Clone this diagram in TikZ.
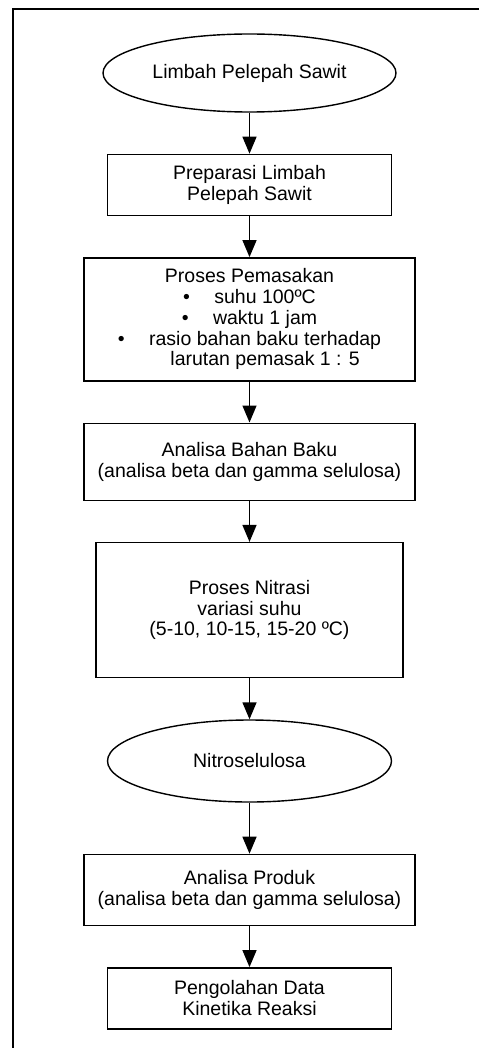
\documentclass[tikz,border=0pt]{standalone}
\usepackage{fontspec}
\setmainfont{Liberation Sans}
\usetikzlibrary{arrows.meta,chains,positioning,shapes.geometric}

\begin{document}
\begin{tikzpicture}[
  x=1pt,y=1pt,
  node distance=20.5pt,
  start chain=flow going below,
  font=\fontsize{9.75}{10.4}\selectfont,
  block/.style={draw,line width=0.7pt,inner sep=1pt,align=center,minimum width=142pt,minimum height=30.5pt},
  wide/.style={block,minimum width=165.5pt},
  terminal/.style={draw,ellipse,line width=0.7pt,inner sep=0pt,align=center,minimum width=142pt,minimum height=41pt},
  every on chain/.style={join},
  every join/.style={-{Triangle[length=8.5pt,width=7pt]},line width=0.7pt}
]
  \useasboundingbox (0,0) rectangle (239.5,-524);
  \draw[line width=0.7pt] (239.5,-4.5) -- (6.5,-4.5) -- (6.5,-524);

  \node[terminal,on chain=flow,minimum width=146.5pt,minimum height=39pt] (limbah) at (124.75,-36.5) {Limbah Pelepah Sawit};
  \node[block,on chain=flow] (preparasi) {Preparasi Limbah\\Pelepah Sawit};
  \node[wide,on chain=flow,minimum height=61.5pt] (pemasakan) {Proses Pemasakan\\
    \textbullet\hspace{1.25em}suhu 100ºC\\
    \textbullet\hspace{1.25em}waktu 1 jam\\
    \textbullet\hspace{1.25em}rasio bahan baku terhadap\\
    \hspace*{1.6em}larutan pemasak 1 : 5};
  \node[wide,on chain=flow,minimum height=38.5pt] (bahanbaku) {Analisa Bahan Baku\\(analisa beta dan gamma selulosa)};
  \node[block,on chain=flow,minimum width=153.5pt,minimum height=67.5pt] (nitrasi) {Proses Nitrasi\\variasi suhu\\(5-10, 10-15, 15-20 ºC)};
  \node[terminal,on chain=flow] (nitro) {Nitroselulosa};
  \node[wide,on chain=flow,yshift=-5pt,minimum height=35.5pt] (produk) {Analisa Produk\\(analisa beta dan gamma selulosa)};
  \node[block,on chain=flow] (kinetika) {Pengolahan Data\\Kinetika Reaksi};
\end{tikzpicture}
\end{document}
